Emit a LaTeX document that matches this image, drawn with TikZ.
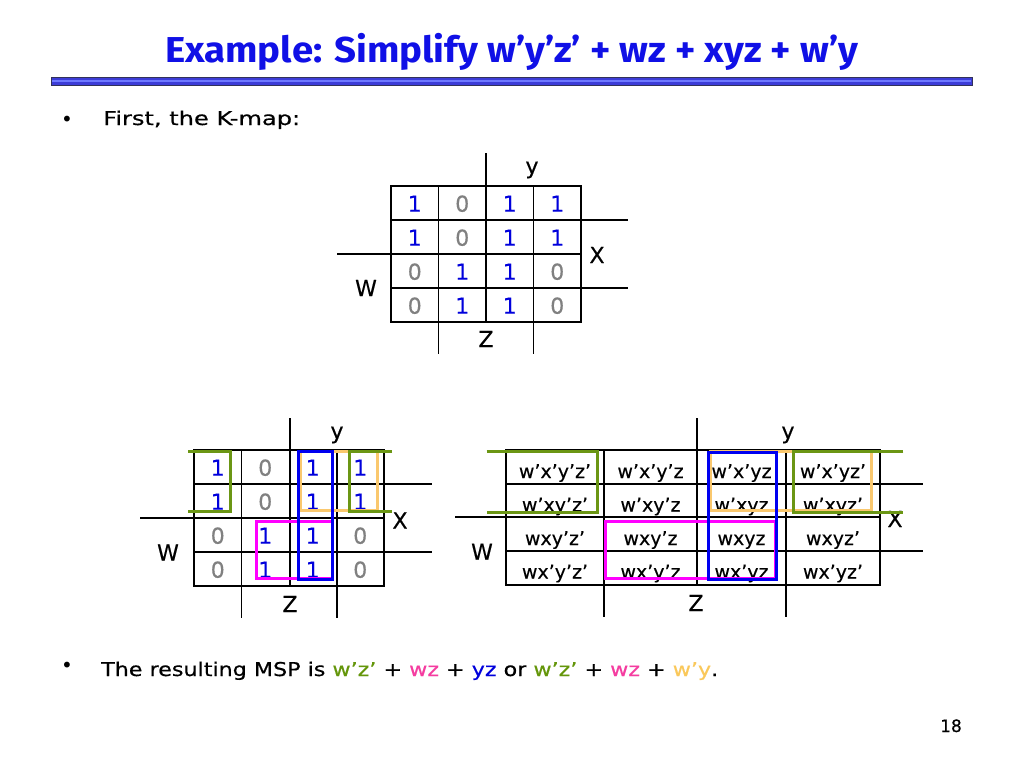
\documentclass[tikz,border=0pt]{standalone}
\usepackage{fontspec}
\usepackage{graphicx}
\setmainfont{DejaVu Sans}
\newfontfamily\titlefont{Fira Sans}
\newfontfamily\bodyfont{DejaVu Sans}[FakeBold=0.5]
\newfontfamily\mapfont{DejaVu Sans}[FakeBold=0.3]
\definecolor{titleblue}{RGB}{16,16,230}
\definecolor{bitblue}{RGB}{0,0,220}
\definecolor{bitgray}{RGB}{128,128,128}
\definecolor{loopgreen}{RGB}{107,150,20}
\definecolor{looporange}{RGB}{250,200,110}
\definecolor{loopmag}{RGB}{255,0,255}
\definecolor{loopblue}{RGB}{0,0,240}
\definecolor{textpink}{RGB}{245,60,160}
\definecolor{textgreen}{RGB}{100,150,10}
\definecolor{textorange}{RGB}{250,200,90}
\definecolor{bardark}{RGB}{50,50,90}
\definecolor{barblue}{RGB}{60,60,215}
\definecolor{barlight}{RGB}{110,120,255}
\tikzset{
  gridline/.style={line width=1.9pt, black},
  grouploop/.style={line width=3pt, line cap=butt, line join=miter},
  digit/.style={font=\mapfont\fontsize{22}{26}\selectfont, inner sep=0pt, anchor=base},
  bitone/.style={text=bitblue},
  bitzero/.style={text=bitgray},
  term/.style={font=\mapfont\fontsize{19}{23}\selectfont, inner sep=0pt, anchor=base},
  varlabel/.style={font=\mapfont\fontsize{22}{25}\selectfont, inner sep=0pt, anchor=center},
  bodytext/.style={font=\bodyfont\fontsize{19}{23}\selectfont, inner sep=0pt, anchor=base west},
  bulletmark/.style={font=\fontsize{20}{22}\selectfont, inner sep=0pt, anchor=base},
}
\begin{document}
\begin{tikzpicture}[x=1pt,y=-1pt]
\useasboundingbox (0,0) rectangle (1024,768);
\fill[white] (0,0) rectangle (1024,768);

% title
\node[anchor=base west, inner sep=0pt, text=titleblue] (title) at (165,62.7)
  {\resizebox{693pt}{\height}{\titlefont\bfseries\fontsize{36}{40}\selectfont Example: Simplify w’y’z’ + wz + xyz + w’y}};
% separator bar
\draw[bardark, line width=1pt, fill=barblue] (51,77) rectangle (972,85);
\fill[barlight] (52,80) rectangle (971,82);

% first bullet
\node[bulletmark] (b1) at (67,126.5) {•};
\node[bodytext] (line1) at (103,125) {\resizebox{197pt}{\height}{First, the K-map:}};

% ---------------- top K-map ----------------
\draw[gridline] (391,186) rectangle (581,322);
\draw[gridline] (486,153) -- (486,322);
\draw[gridline] (438.5,186) -- (438.5,354);
\draw[gridline] (533.5,186) -- (533.5,354);
\draw[gridline] (337,254) -- (581,254);
\draw[gridline] (391,220) -- (628,220);
\draw[gridline] (391,288) -- (628,288);
\foreach \v [count=\i from 0] in {1,0,1,1,1,0,1,1,0,1,1,0,0,1,1,0} {
  \pgfmathtruncatemacro\myr{\i/4}
  \pgfmathtruncatemacro\myc{mod(\i,4)}
  \ifnum\v=1 \def\mystyle{bitone}\else\def\mystyle{bitzero}\fi
  \node[digit,\mystyle] (t-\myr-\myc) at ({391+47.5*\myc+23.75},{186+34*\myr+25.7}) {\v};
}
\node[varlabel] (ty) at (532,170) {y};
\node[varlabel] (tx) at (597,255) {X};
\node[varlabel] (tw) at (366,288) {W};
\node[varlabel] (tz) at (486,339) {Z};

% ---------------- bottom-left K-map ----------------
\draw[gridline] (194,450) rectangle (384,586);
\draw[gridline] (290,418) -- (290,586);
\draw[gridline] (241.5,450) -- (241.5,618);
\draw[gridline] (337,450) -- (337,618);
\draw[gridline] (140,518) -- (384,518);
\draw[gridline] (194,484) -- (432,484);
\draw[gridline] (194,552) -- (432,552);
\foreach \v [count=\i from 0] in {1,0,1,1,1,0,1,1,0,1,1,0,0,1,1,0} {
  \pgfmathtruncatemacro\myr{\i/4}
  \pgfmathtruncatemacro\myc{mod(\i,4)}
  \ifnum\v=1 \def\mystyle{bitone}\else\def\mystyle{bitzero}\fi
  \node[digit,\mystyle] (l-\myr-\myc) at ({194+47.5*\myc+23.75},{450+34*\myr+25.7}) {\v};
}
\node[varlabel] (ly) at (337,435) {y};
\node[varlabel] (lx) at (400,520.5) {X};
\node[varlabel] (lw) at (168,552.5) {W};
\node[varlabel] (lz) at (290,604) {Z};
% groups
\draw[grouploop, looporange] (300,451.7) rectangle (377,510.5);
\draw[grouploop, loopmag] (256,521) rectangle (332,578.3);
\draw[grouploop, loopblue] (298.3,451.7) rectangle (332.3,579.3);
\draw[grouploop, loopgreen] (188,451.7) -- (230,451.7) -- (230,511.7) -- (188,511.7);
\draw[grouploop, loopgreen] (392,451.7) -- (349,451.7) -- (349,511.7) -- (392,511.7);

% ---------------- bottom-right K-map ----------------
\draw[gridline] (506,450) rectangle (880,585);
\draw[gridline] (697,418) -- (697,585);
\draw[gridline] (604,450) -- (604,617);
\draw[gridline] (786,450) -- (786,617);
\draw[gridline] (455,517) -- (880,517);
\draw[gridline] (506,484) -- (923,484);
\draw[gridline] (506,551) -- (923,551);
\foreach \t [count=\i from 0] in {w’x’y’z’,w’x’y’z,w’x’yz,w’x’yz’,
                                  w’xy’z’,w’xy’z,w’xyz,w’xyz’,
                                  wxy’z’,wxy’z,wxyz,wxyz’,
                                  wx’y’z’,wx’y’z,wx’yz,wx’yz’} {
  \pgfmathtruncatemacro\myr{\i/4}
  \pgfmathtruncatemacro\myc{mod(\i,4)}
  \pgfmathsetmacro\myx{{555,650.5,741.5,833}[\myc]}
  \pgfmathsetmacro\myy{{478,511.5,545,578.5}[\myr]}
  \node[term] (r-\myr-\myc) at (\myx,\myy) {\t};
}
\node[varlabel] (ry) at (788,435) {y};
\node[varlabel] (rx) at (895,519) {X};
\node[varlabel] (rw) at (482,551.7) {W};
\node[varlabel] (rz) at (696,603) {Z};
% groups
\draw[grouploop, looporange] (710,451.7) rectangle (871,510.5);
\draw[grouploop, loopmag] (605.7,521.7) rectangle (775,578.3);
\draw[grouploop, loopblue] (708.3,452.3) rectangle (776,579.3);
\draw[grouploop, loopgreen] (486.7,451.7) -- (597.7,451.7) -- (597.7,512) -- (486.7,512);
\draw[grouploop, loopgreen] (903.3,451.7) -- (793.3,451.7) -- (793.3,512) -- (903.3,512);

% second bullet
\node[bulletmark] (b2) at (67,672.5) {•};
\node[bodytext] (line2) at (101,676) {\resizebox{617pt}{\height}{The resulting MSP is
  \textcolor{textgreen}{w’z’} + \textcolor{textpink}{wz} + \textcolor{bitblue}{yz} or
  \textcolor{textgreen}{w’z’} + \textcolor{textpink}{wz} + \textcolor{textorange}{w’y}.}};

% page number
\node[anchor=base, inner sep=0pt, font=\bodyfont\fontsize{17}{20}\selectfont] (page) at (951,732) {18};
\end{tikzpicture}
\end{document}
